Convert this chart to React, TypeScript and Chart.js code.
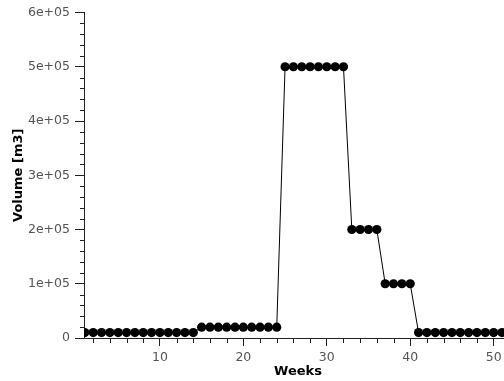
import React, { useEffect, useRef } from "react";
import { Chart, registerables } from "chart.js";

Chart.register(...registerables);

const weeks: number[] = Array.from({ length: 52 }, (_, i) => i + 1);
const volumes: number[] = [
  10000, 10000, 10000, 10000, 10000, 10000, 10000, 10000, 10000, 10000, 10000, 10000, 10000, 10000,
  20000, 20000, 20000, 20000, 20000, 20000, 20000, 20000, 20000, 20000,
  500000, 500000, 500000, 500000, 500000, 500000, 500000, 500000,
  200000, 200000, 200000, 200000,
  100000, 100000, 100000, 100000,
  10000, 10000, 10000, 10000, 10000, 10000, 10000, 10000, 10000, 10000, 10000, 10000,
];
const xTicks: number[] = [10, 20, 30, 40, 50];
const yTicks: number[] = [0, 100000, 200000, 300000, 400000, 500000, 600000];
const yTickLabels: string[] = ["0", "1e+05", "2e+05", "3e+05", "4e+05", "5e+05", "6e+05"];
const xMinorTicks: number[] = Array.from({ length: 26 }, (_, i) => (i + 1) * 2).filter((v) => v % 10 !== 0);
const yMinorTicks: number[] = Array.from({ length: 30 }, (_, i) => i * 20000).filter((v) => v % 100000 !== 0);

const FONT = "'DejaVu Sans', sans-serif";
const AXIS = "#222";

const minorTicksPlugin = {
  id: "minorTicks",
  afterDraw(chart: any) {
    const { ctx, chartArea, scales } = chart;
    const x = scales.x;
    const y = scales.y;
    ctx.save();
    ctx.strokeStyle = AXIS;
    ctx.lineWidth = 1;
    ctx.beginPath();
    for (const v of xMinorTicks) {
      const px = Math.round(x.getPixelForValue(v)) + 0.5;
      if (px < chartArea.left || px > chartArea.right) continue;
      ctx.moveTo(px, chartArea.bottom);
      ctx.lineTo(px, chartArea.bottom + 5);
    }
    for (const v of yMinorTicks) {
      const py = Math.round(y.getPixelForValue(v)) + 0.5;
      ctx.moveTo(chartArea.left - 4, py);
      ctx.lineTo(chartArea.left, py);
    }
    ctx.stroke();
    ctx.restore();
  },
};

export default function App() {
  const ref = useRef<HTMLCanvasElement | null>(null);

  useEffect(() => {
    document.body.style.margin = "0";
    document.body.style.overflow = "hidden";
    document.body.style.background = "#fff";
    const canvas = ref.current;
    if (!canvas) return;
    const chart = new Chart(canvas, {
      type: "line",
      data: {
        datasets: [
          {
            data: weeks.map((w, i) => ({ x: w, y: volumes[i] })),
            borderColor: "#000",
            borderWidth: 1,
            backgroundColor: "#000",
            pointBackgroundColor: "#000",
            pointBorderWidth: 0,
            pointRadius: 4.6,
            tension: 0,
            fill: false,
          },
        ],
      },
      options: {
        responsive: false,
        animation: false,
        devicePixelRatio: 1,
        layout: { padding: { top: 11, right: 8, left: 0, bottom: 0 } },
        plugins: { legend: { display: false }, tooltip: { enabled: false } },
        scales: {
          x: {
            type: "linear",
            min: 0.9,
            max: 52.2,
            afterFit: (s: any) => {
              s.height = 43;
            },
            afterBuildTicks: (s: any) => {
              s.ticks = xTicks.map((v) => ({ value: v }));
            },
            grid: {
              display: true,
              drawOnChartArea: false,
              drawTicks: true,
              tickLength: 8,
              tickColor: AXIS,
            },
            border: { display: true, color: AXIS, width: 1 },
            ticks: {
              color: "#555",
              font: { family: FONT, size: 12.5 },
              padding: 4,
              maxRotation: 0,
              autoSkip: false,
              callback: (v: any) => String(v),
            },
            title: {
              display: true,
              text: "Weeks",
              color: "#000",
              font: { family: FONT, size: 13, weight: "bold" },
              padding: { top: 0, bottom: 2 },
            },
          },
          y: {
            type: "linear",
            min: 0,
            max: 600000,
            afterFit: (s: any) => {
              s.width = 84;
            },
            afterBuildTicks: (s: any) => {
              s.ticks = yTicks.map((v) => ({ value: v }));
            },
            grid: {
              display: true,
              drawOnChartArea: false,
              drawTicks: true,
              tickLength: 9,
              tickColor: AXIS,
            },
            border: { display: true, color: AXIS, width: 1 },
            ticks: {
              color: "#555",
              font: { family: FONT, size: 12.5 },
              padding: 5,
              autoSkip: false,
              callback: (v: any) => {
                const i = yTicks.indexOf(Number(v));
                return i >= 0 ? yTickLabels[i] : "";
              },
            },
            title: {
              display: true,
              text: "Volume [m3]",
              color: "#000",
              font: { family: FONT, size: 13, weight: "bold" },
              padding: { top: 11, bottom: 0 },
            },
          },
        },
      },
      plugins: [minorTicksPlugin],
    });
    return () => chart.destroy();
  }, []);

  return (
    <div style={{ width: 504, height: 381, overflow: "hidden", background: "#fff" }}>
      <canvas ref={ref} width={520} height={381} style={{ display: "block" }} />
    </div>
  );
}
